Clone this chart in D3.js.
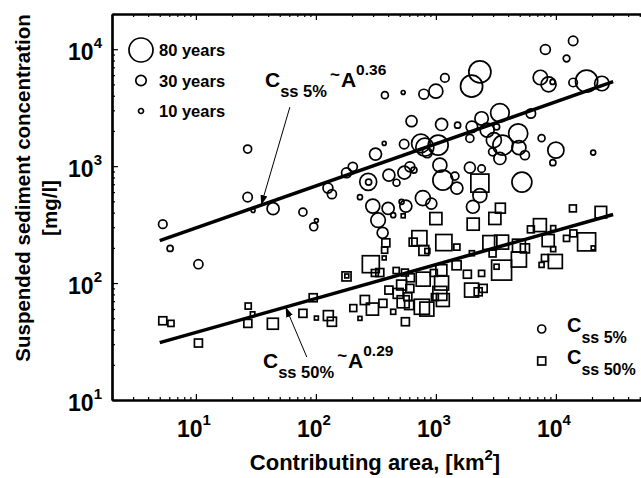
<!DOCTYPE html>
<html>
<head>
<meta charset="utf-8">
<script src="https://cdn.jsdelivr.net/npm/d3@7"></script>
<style>
body { margin: 0; background: #fff; }
text { font-family: "Liberation Sans", Arial, Helvetica, sans-serif; font-weight: bold; fill: #000; }
</style>
</head>
<body>
<div id="chart"></div>
<script>
// C_ss 5% points: area [km2], concentration [mg/l], record length [years]
var c5Area = [5.3, 6.1, 10.5, 27, 27, 30, 44, 78, 96, 101, 126, 136, 180, 203, 233, 273, 275, 406, 470, 546,
  656, 607, 298, 400, 330, 360, 441, 518, 562, 779, 917, 1080, 1143, 1440, 1496, 2034, 376, 534, 794, 1000,
  1189, 2326, 1984, 8175, 13930, 12270, 7430, 8690, 9388, 13930, 18030, 24170, 6190, 627, 1116, 1517, 1995, 2404, 3415, 2676,
  3205, 3043, 3617, 4852, 4920, 5520, 7600, 10000, 9440, 20460, 371, 544, 750, 809, 1045, 846, 314, 1920, 2404, 5210,
  2326, 1920, 2969, 3415];
var c5Conc = [319, 198, 145, 1400, 543, 417, 433, 404, 303, 342, 649, 576, 877, 986, 543, 734, 730, 838, 722, 880,
  925, 986, 455, 435, 345, 269, 381, 495, 455, 533, 478, 1020, 759, 822, 649, 449, 4045, 4266, 4125, 4375,
  5685, 6397, 4830, 9940, 11780, 8327, 5730, 5003, 5253, 5191, 5328, 5090, 2820, 2425, 2271, 2240, 2168, 2557, 2855, 2031,
  2168, 1668, 1512, 1904, 1439, 1242, 1735, 1370, 1071, 1305, 1564, 1542, 1564, 1453, 1512, 1300, 1267, 971, 952, 730,
  560, 1726, 1325, 1163];
var c5Years = [23, 14, 25, 21, 26, 6, 36, 21, 21, 6, 28, 25, 28, 25, 10, 54, 14, 36, 17, 39,
  14, 28, 43, 36, 45, 32, 10, 10, 36, 47, 32, 43, 65, 21, 36, 39, 17, 6, 28, 43,
  23, 73, 73, 28, 26, 16, 45, 47, 10, 23, 73, 45, 26, 32, 36, 14, 34, 41, 60, 43,
  14, 47, 65, 62, 43, 25, 17, 51, 14, 10, 6, 26, 60, 58, 65, 28, 36, 32, 19, 65,
  43, 21, 21, 36];

// C_ss 50% points
var c50Area = [5.3, 6.2, 10.5, 27.3, 29.7, 27.1, 43.8, 78, 95, 101, 127, 136, 180, 181, 205, 233, 383, 374, 371, 534,
  1000, 729, 647, 1166, 794, 849, 1496, 287, 310, 341, 467, 552, 613, 784, 962, 1111, 1116, 1488, 1830, 2404,
  3528, 3205, 4920, 7600, 8100, 9900, 2326, 3447, 3102, 2046, 13860, 23710, 7360, 6190, 9495, 8630, 9495, 12270, 13990, 18030,
  20460, 2818, 3528, 4920, 5520, 2969, 1995, 256, 296, 362, 441, 534, 584, 599, 764, 841, 981, 1080, 1143, 557,
  406, 485, 518, 607, 1984, 2252, 2478];
var c50Conc = [47.6, 45.2, 30.7, 63.6, 54.3, 45.2, 44.9, 55.1, 74.9, 50.2, 52.7, 46.7, 114, 115, 61.1, 49.9, 221, 191, 164, 376,
  356, 242, 224, 222, 190, 188, 203, 145, 122, 123, 128, 123, 111, 108, 122, 129, 100, 142, 119, 121,
  129, 138, 159, 143, 164, 153, 716, 437, 357, 319, 435, 404, 313, 288, 295, 231, 195, 241, 266, 225,
  200, 222, 224, 209, 198, 179, 180, 71.6, 59.9, 67.1, 56.8, 69.2, 76.4, 64.9, 62.7, 59.9, 75.9, 81.6, 71.6, 46.7,
  87.1, 81.6, 96.2, 90.1, 87.1, 84.2, 90.1];
var c50Years = [21, 14, 21, 14, 8, 21, 32, 21, 21, 6, 28, 25, 25, 6, 17, 6, 21, 14, 6, 6,
  36, 47, 21, 51, 28, 10, 14, 54, 17, 21, 14, 17, 21, 43, 17, 32, 43, 25, 21, 14,
  65, 10, 47, 10, 17, 43, 58, 28, 36, 36, 17, 34, 39, 17, 10, 36, 10, 14, 17, 58,
  6, 43, 43, 39, 25, 17, 10, 25, 36, 21, 10, 36, 21, 25, 47, 43, 17, 43, 39, 21,
  21, 28, 28, 21, 43, 21, 21];

// power-law fits C = k * A^b, drawn between fitRange
var fit5 = {k: 129, b: 0.36};
var fit50 = {k: 19.4, b: 0.29};
var fitRange = [5, 30000];

var xTicks = [10, 100, 1000, 10000];
var yTicks = [10, 100, 1000, 10000];
var sizeLegendYears = [80, 30, 10];

var width = 641, height = 478;
var plot = {left: 112, top: 14, bottom: 400};

var x = d3.scaleLog().domain([2, 1e5]).range([plot.left, plot.left + 120 * Math.log10(5e4)]);
var y = d3.scaleLog().domain([10, 2e4]).range([plot.bottom, plot.top]);
var size = d3.scaleLinear().domain([10, 80]).range([2.5, 12]);

var svg = d3.select("#chart").append("svg")
    .attr("width", width)
    .attr("height", height);

svg.append("defs").append("marker")
    .attr("id", "head")
    .attr("viewBox", "0 0 10 10")
    .attr("refX", 10).attr("refY", 5)
    .attr("markerWidth", 10).attr("markerHeight", 10)
    .attr("markerUnits", "userSpaceOnUse")
    .attr("orient", "auto")
  .append("path")
    .attr("d", "M0,1.5L10,5L0,8.5Z")
    .attr("fill", "#000");

function decade(v) { return Math.abs(Math.log10(v) - Math.round(Math.log10(v))) < 1e-6; }
var xMinor = x.ticks().filter(function(d) { return !decade(d); });
var yMinor = y.ticks().filter(function(d) { return !decade(d); });

function styleAxis(g) {
  g.select(".domain").attr("stroke", "#000").attr("stroke-width", 2.2);
  g.selectAll(".tick line").attr("stroke", "#000").attr("stroke-width", 1.2);
  g.selectAll(".tick text").remove();
}

// bottom axis, ticks inward
svg.append("g").attr("transform", "translate(0," + plot.bottom + ")")
    .call(d3.axisBottom(x).tickValues(xMinor).tickSize(-3).tickSizeOuter(0)).call(styleAxis);
svg.append("g").attr("transform", "translate(0," + plot.bottom + ")")
    .call(d3.axisBottom(x).tickValues(xTicks).tickSize(-6).tickSizeOuter(0)).call(styleAxis);
// top axis
svg.append("g").attr("transform", "translate(0," + plot.top + ")")
    .call(d3.axisTop(x).tickValues(xMinor).tickSize(-3).tickSizeOuter(0)).call(styleAxis);
svg.append("g").attr("transform", "translate(0," + plot.top + ")")
    .call(d3.axisTop(x).tickValues(xTicks).tickSize(-6).tickSizeOuter(0)).call(styleAxis);
// left axis
svg.append("g").attr("transform", "translate(" + plot.left + ",0)")
    .call(d3.axisLeft(y).tickValues(yMinor).tickSize(-3).tickSizeOuter(0)).call(styleAxis);
svg.append("g").attr("transform", "translate(" + plot.left + ",0)")
    .call(d3.axisLeft(y).tickValues(yTicks).tickSize(-6).tickSizeOuter(0)).call(styleAxis);

// tick labels 10^n
var xl = svg.selectAll(".xlab").data(xTicks).enter().append("text")
    .attr("class", "xlab")
    .attr("x", function(d) { return x(d) - 2; })
    .attr("y", plot.bottom + 37)
    .attr("text-anchor", "middle")
    .style("font-size", "23px");
xl.append("tspan").text("10");
xl.append("tspan").attr("dy", -12).style("font-size", "15px")
    .text(function(d) { return Math.round(Math.log10(d)); });

var yl = svg.selectAll(".ylab").data(yTicks).enter().append("text")
    .attr("class", "ylab")
    .attr("x", plot.left - 10)
    .attr("y", function(d) { return y(d) + 11; })
    .attr("text-anchor", "end")
    .style("font-size", "23px");
yl.append("tspan").text("10");
yl.append("tspan").attr("dy", -12).style("font-size", "15px")
    .text(function(d) { return Math.round(Math.log10(d)); });

// axis titles
var xt = svg.append("text")
    .attr("x", 375).attr("y", 470)
    .attr("text-anchor", "middle")
    .style("font-size", "22px");
xt.append("tspan").text("Contributing area, [km");
xt.append("tspan").attr("dy", -10).style("font-size", "15px").text("2");
xt.append("tspan").attr("dy", 10).text("]");

svg.append("text")
    .attr("transform", "translate(30,188) rotate(-90)")
    .attr("text-anchor", "middle")
    .style("font-size", "20.5px")
    .text("Suspended sediment concentration");
svg.append("text")
    .attr("transform", "translate(57,208) rotate(-90)")
    .attr("text-anchor", "middle")
    .style("font-size", "20.5px")
    .text("[mg/l]");

// points
var c5 = c5Area.map(function(a, i) { return {a: a, c: c5Conc[i], yr: c5Years[i]}; });
var c50 = c50Area.map(function(a, i) { return {a: a, c: c50Conc[i], yr: c50Years[i]}; });

svg.selectAll(".sq").data(c50).enter().append("rect")
    .attr("class", "sq")
    .attr("x", function(d) { return x(d.a) - size(d.yr); })
    .attr("y", function(d) { return y(d.c) - size(d.yr); })
    .attr("width", function(d) { return 2 * size(d.yr); })
    .attr("height", function(d) { return 2 * size(d.yr); })
    .attr("fill", "none")
    .attr("stroke", "#000")
    .attr("stroke-width", 1.7);

svg.selectAll(".ci").data(c5).enter().append("circle")
    .attr("class", "ci")
    .attr("cx", function(d) { return x(d.a); })
    .attr("cy", function(d) { return y(d.c); })
    .attr("r", function(d) { return size(d.yr); })
    .attr("fill", "none")
    .attr("stroke", "#000")
    .attr("stroke-width", 1.7);

// fit lines
function fitLine(f) {
  return d3.line()
    .x(function(a) { return x(a); })
    .y(function(a) { return y(f.k * Math.pow(a, f.b)); })(fitRange);
}
svg.append("path").attr("d", fitLine(fit5)).attr("stroke", "#000").attr("stroke-width", 3.5).attr("fill", "none");
svg.append("path").attr("d", fitLine(fit50)).attr("stroke", "#000").attr("stroke-width", 3.5).attr("fill", "none");

// annotations with arrows
svg.append("line")
    .attr("x1", x(60.7)).attr("y1", y(3195))
    .attr("x2", x(35)).attr("y2", y(fit5.k * Math.pow(35, fit5.b)))
    .attr("stroke", "#000").attr("stroke-width", 1)
    .attr("marker-end", "url(#head)");
svg.append("line")
    .attr("x1", x(84)).attr("y1", y(23.3))
    .attr("x2", x(56)).attr("y2", y(fit50.k * Math.pow(56, fit50.b)))
    .attr("stroke", "#000").attr("stroke-width", 1)
    .attr("marker-end", "url(#head)");

function fitLabel(px, py, sub, expo) {
  var t = svg.append("text").attr("x", px).attr("y", py).style("font-size", "21px");
  t.append("tspan").text("C");
  t.append("tspan").attr("dy", 10).style("font-size", "16.5px").text(sub);
  t.append("tspan").attr("dy", -17).attr("dx", 3).style("font-size", "17px").text("~");
  t.append("tspan").attr("dy", 7).attr("dx", 1).text("A");
  t.append("tspan").attr("dy", -12).style("font-size", "15.5px").text(expo);
}
fitLabel(265, 87, "ss 5%", "0.36");
fitLabel(263, 368, "ss 50%", "0.29");

// size legend
var sl = svg.selectAll(".sizeleg").data(sizeLegendYears).enter().append("g")
    .attr("class", "sizeleg")
    .attr("transform", function(d, i) { return "translate(141," + (50 + i * 30.5) + ")"; });
sl.append("circle")
    .attr("r", function(d) { return size(d); })
    .attr("fill", "none").attr("stroke", "#000").attr("stroke-width", 1.7);
sl.append("text")
    .attr("x", 18).attr("y", 6)
    .style("font-size", "16.5px")
    .text(function(d) { return d + " years"; });

// symbol legend
svg.append("circle").attr("cx", 541.7).attr("cy", 329).attr("r", 4)
    .attr("fill", "none").attr("stroke", "#000").attr("stroke-width", 1.7);
svg.append("rect").attr("x", 537.7).attr("y", 357).attr("width", 8).attr("height", 8)
    .attr("fill", "none").attr("stroke", "#000").attr("stroke-width", 1.7);
[["ss 5%", 332], ["ss 50%", 364]].forEach(function(l) {
  var t = svg.append("text").attr("x", 567).attr("y", l[1]).style("font-size", "20px");
  t.append("tspan").text("C");
  t.append("tspan").attr("dy", 11).style("font-size", "16px").text(l[0]);
});
</script>
</body>
</html>
